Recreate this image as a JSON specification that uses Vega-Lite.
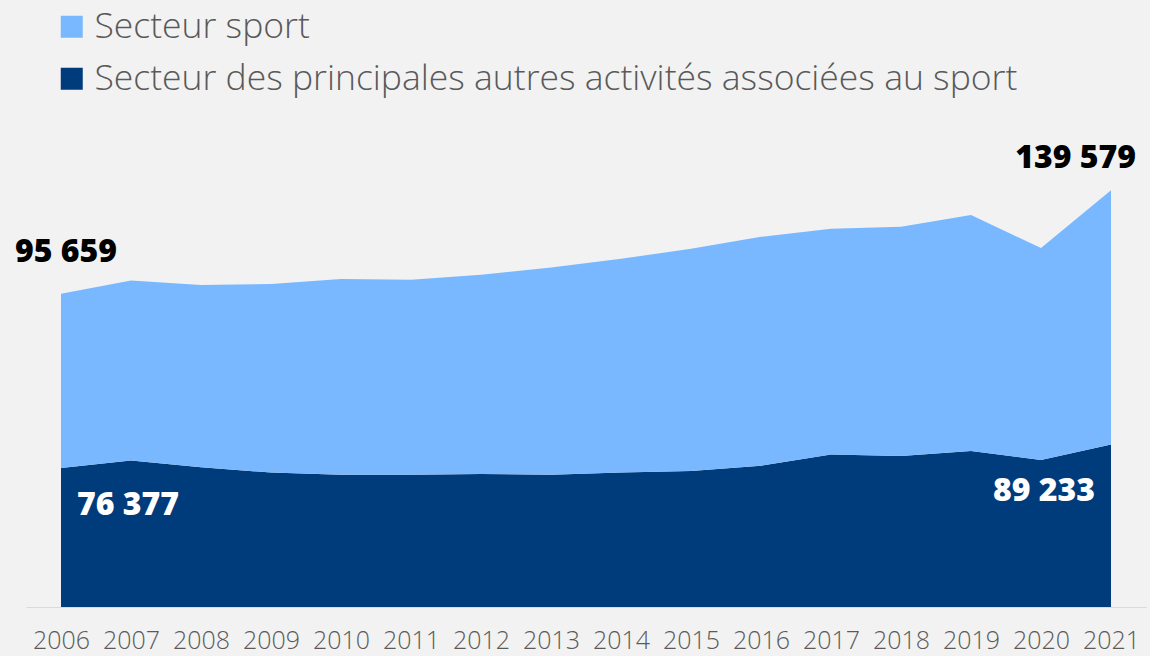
{
  "$schema": "https://vega.github.io/schema/vega-lite/v6.json",
  "autosize": {"type": "none"},
  "width": 1120,
  "height": 437,
  "padding": {"left": 26, "top": 170, "right": 4, "bottom": 49},
  "background": "#F2F2F2",
  "config": {
    "view": {"stroke": null},
    "locale": {"number": {"decimal": ",", "thousands": " ", "grouping": [3], "currency": ["", " CHF"]}},
    "font": "Open Sans"
  },
  "data": {
    "values": [
      {"year": "2006", "serie": "Secteur des principales autres activités associées au sport", "value": 76377},
      {"year": "2007", "serie": "Secteur des principales autres activités associées au sport", "value": 80390},
      {"year": "2008", "serie": "Secteur des principales autres activités associées au sport", "value": 76770},
      {"year": "2009", "serie": "Secteur des principales autres activités associées au sport", "value": 73800},
      {"year": "2010", "serie": "Secteur des principales autres activités associées au sport", "value": 72700},
      {"year": "2011", "serie": "Secteur des principales autres activités associées au sport", "value": 72700},
      {"year": "2012", "serie": "Secteur des principales autres activités associées au sport", "value": 73080},
      {"year": "2013", "serie": "Secteur des principales autres activités associées au sport", "value": 72700},
      {"year": "2014", "serie": "Secteur des principales autres activités associées au sport", "value": 73800},
      {"year": "2015", "serie": "Secteur des principales autres activités associées au sport", "value": 74730},
      {"year": "2016", "serie": "Secteur des principales autres activités associées au sport", "value": 77640},
      {"year": "2017", "serie": "Secteur des principales autres activités associées au sport", "value": 83690},
      {"year": "2018", "serie": "Secteur des principales autres activités associées au sport", "value": 82980},
      {"year": "2019", "serie": "Secteur des principales autres activités associées au sport", "value": 85720},
      {"year": "2020", "serie": "Secteur des principales autres activités associées au sport", "value": 80780},
      {"year": "2021", "serie": "Secteur des principales autres activités associées au sport", "value": 89233},
      {"year": "2006", "serie": "Secteur sport", "value": 95659},
      {"year": "2007", "serie": "Secteur sport", "value": 98910},
      {"year": "2008", "serie": "Secteur sport", "value": 100010},
      {"year": "2009", "serie": "Secteur sport", "value": 103530},
      {"year": "2010", "serie": "Secteur sport", "value": 107370},
      {"year": "2011", "serie": "Secteur sport", "value": 106990},
      {"year": "2012", "serie": "Secteur sport", "value": 109350},
      {"year": "2013", "serie": "Secteur sport", "value": 113750},
      {"year": "2014", "serie": "Secteur sport", "value": 117430},
      {"year": "2015", "serie": "Secteur sport", "value": 121990},
      {"year": "2016", "serie": "Secteur sport", "value": 125670},
      {"year": "2017", "serie": "Secteur sport", "value": 124020},
      {"year": "2018", "serie": "Secteur sport", "value": 125840},
      {"year": "2019", "serie": "Secteur sport", "value": 129520},
      {"year": "2020", "serie": "Secteur sport", "value": 116330},
      {"year": "2021", "serie": "Secteur sport", "value": 139579}
    ]
  },
  "encoding": {
    "x": {
      "field": "year", "type": "ordinal",
      "scale": {"type": "point", "padding": 0.5},
      "axis": {
        "title": null, "labelAngle": 0, "ticks": false,
        "domainColor": "#DADADA", "domainWidth": 1,
        "labelFontSize": 25, "labelColor": "#5A5A5A", "labelPadding": 21,
        "labelFont": "Open Sans", "labelFontWeight": 300
      }
    }
  },
  "layer": [
    {
      "mark": {"type": "area", "opacity": 1},
      "encoding": {
        "y": {"field": "value", "type": "quantitative", "stack": "zero",
              "scale": {"domain": [0, 240000]}, "axis": null},
        "color": {
          "field": "serie", "type": "nominal",
          "scale": {"domain": ["Secteur sport", "Secteur des principales autres activités associées au sport"],
                    "range": ["#79B8FE", "#003B7C"]},
          "legend": {
            "title": null, "orient": "none", "legendX": 28, "legendY": -161,
            "symbolType": "square", "symbolSize": 484, "symbolStrokeWidth": 0,
            "symbolOpacity": 1,
            "labelFontSize": 35.5, "labelColor": "#595959", "labelFont": "Open Sans",
            "labelFontWeight": 300, "labelOffset": 5, "rowPadding": 15, "labelLimit": 1100
          }
        },
        "order": {"field": "serie", "sort": "ascending"}
      }
    },
    {
      "transform": [
        {"stack": "value", "groupby": ["year"], "sort": [{"field": "serie", "order": "ascending"}], "as": ["v0", "v1"]},
        {"filter": "datum.year == '2006' && datum.serie == 'Secteur sport'"}
      ],
      "mark": {"type": "text", "align": "center", "baseline": "middle", "dx": 5, "dy": -42,
               "fontSize": 32, "fontWeight": 800, "color": "#000000"},
      "encoding": {
        "y": {"field": "v1", "type": "quantitative"},
        "text": {"field": "value", "type": "quantitative", "format": ",d"}
      }
    },
    {
      "transform": [
        {"stack": "value", "groupby": ["year"], "sort": [{"field": "serie", "order": "ascending"}], "as": ["v0", "v1"]},
        {"filter": "datum.year == '2021' && datum.serie == 'Secteur sport'"}
      ],
      "mark": {"type": "text", "align": "right", "baseline": "middle", "dx": 25, "dy": -32,
               "fontSize": 32, "fontWeight": 800, "color": "#000000"},
      "encoding": {
        "y": {"field": "v1", "type": "quantitative"},
        "text": {"field": "value", "type": "quantitative", "format": ",d"}
      }
    },
    {
      "transform": [
        {"stack": "value", "groupby": ["year"], "sort": [{"field": "serie", "order": "ascending"}], "as": ["v0", "v1"]},
        {"filter": "datum.year == '2006' && datum.serie != 'Secteur sport'"}
      ],
      "mark": {"type": "text", "align": "left", "baseline": "middle", "dx": 16, "dy": 37,
               "fontSize": 32, "fontWeight": 800, "color": "#FFFFFF"},
      "encoding": {
        "y": {"field": "v1", "type": "quantitative"},
        "text": {"field": "value", "type": "quantitative", "format": ",d"}
      }
    },
    {
      "transform": [
        {"stack": "value", "groupby": ["year"], "sort": [{"field": "serie", "order": "ascending"}], "as": ["v0", "v1"]},
        {"filter": "datum.year == '2021' && datum.serie != 'Secteur sport'"}
      ],
      "mark": {"type": "text", "align": "right", "baseline": "middle", "dx": -16, "dy": 46,
               "fontSize": 32, "fontWeight": 800, "color": "#FFFFFF"},
      "encoding": {
        "y": {"field": "v1", "type": "quantitative"},
        "text": {"field": "value", "type": "quantitative", "format": ",d"}
      }
    }
  ]
}
